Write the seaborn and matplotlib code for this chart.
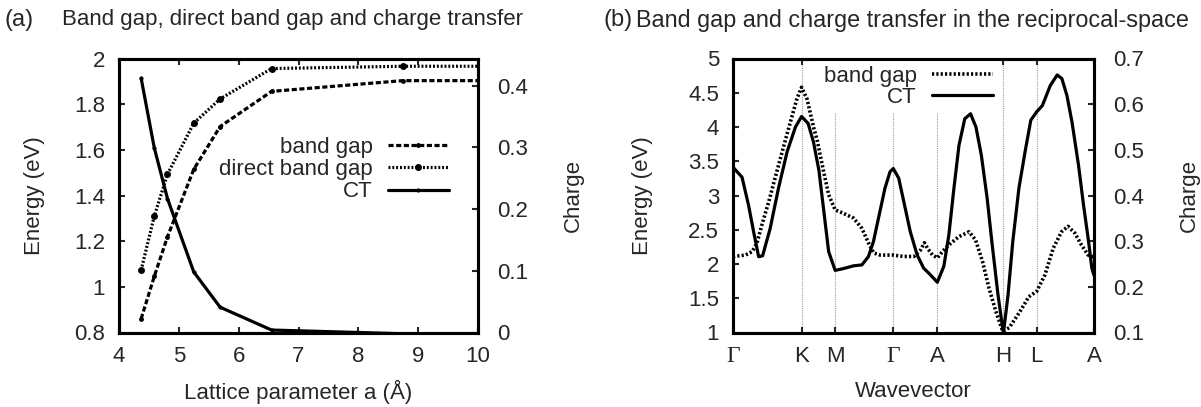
import numpy as np
import pandas as pd
import seaborn as sns
import matplotlib.pyplot as plt
from matplotlib.ticker import FormatStrFormatter, FixedLocator

# (a) band gap / direct gap / charge transfer vs lattice parameter
lattice_a = [4.37, 4.59, 4.81, 5.25, 5.69, 6.55, 8.74, 10.93]
band_gap_a = [0.86, 1.046, 1.219, 1.515, 1.702, 1.856, 1.903, 1.903]
direct_gap_a = [1.073, 1.310, 1.493, 1.717, 1.823, 1.956, 1.966, 1.966]
charge_a = [0.412, 0.299, 0.217, 0.098, 0.041, 0.004, -0.002, -0.002]

# (b) along the k-path (normalized path coordinate)
k_ticks = [0, 0.19, 0.283, 0.444, 0.566, 0.749, 0.841, 1.0]
k_labels = ["Γ", "K", "M", "Γ", "A", "H", "L", "A"]

gap_k = [0.0, 0.034, 0.053, 0.066, 0.080, 0.099, 0.126, 0.154, 0.177, 0.190,
         0.205, 0.224, 0.233, 0.251, 0.265, 0.283, 0.306, 0.334, 0.357, 0.376,
         0.390, 0.408, 0.444, 0.473, 0.501, 0.519, 0.530, 0.540, 0.553, 0.566,
         0.580, 0.598, 0.626, 0.654, 0.672, 0.691, 0.709, 0.728, 0.747, 0.765,
         0.793, 0.809, 0.819, 0.841, 0.864, 0.887, 0.910, 0.928, 0.947, 0.965,
         0.984, 1.0]
gap_energy = [2.11, 2.13, 2.18, 2.30, 2.57, 2.91, 3.44, 3.98, 4.41, 4.58,
              4.41, 3.98, 3.81, 3.35, 3.01, 2.79, 2.74, 2.67, 2.52, 2.30,
              2.16, 2.13, 2.13, 2.11, 2.11, 2.20, 2.31, 2.22, 2.13, 2.09,
              2.18, 2.28, 2.40, 2.47, 2.35, 2.04, 1.65, 1.31, 1.02, 1.07,
              1.29, 1.43, 1.52, 1.60, 1.84, 2.23, 2.47, 2.55, 2.45, 2.28,
              2.13, 2.10]

ct_k = [0.0, 0.025, 0.043, 0.057, 0.071, 0.082, 0.103, 0.126, 0.150, 0.173,
        0.190, 0.208, 0.223, 0.238, 0.265, 0.283, 0.306, 0.334, 0.357, 0.375,
        0.389, 0.407, 0.421, 0.435, 0.444, 0.459, 0.473, 0.491, 0.510, 0.528,
        0.546, 0.566, 0.584, 0.598, 0.612, 0.626, 0.642, 0.658, 0.673, 0.688,
        0.704, 0.717, 0.734, 0.749, 0.762, 0.775, 0.792, 0.810, 0.825, 0.841,
        0.857, 0.879, 0.898, 0.911, 0.925, 0.939, 0.957, 0.971, 0.985, 0.994,
        1.0]
ct_charge = [0.462, 0.440, 0.379, 0.321, 0.266, 0.268, 0.328, 0.416, 0.496, 0.550,
             0.573, 0.558, 0.517, 0.455, 0.277, 0.236, 0.240, 0.246, 0.248, 0.266,
             0.299, 0.365, 0.416, 0.452, 0.459, 0.438, 0.387, 0.321, 0.270, 0.241,
             0.227, 0.210, 0.245, 0.314, 0.416, 0.510, 0.568, 0.579, 0.550, 0.488,
             0.394, 0.299, 0.183, 0.098, 0.183, 0.299, 0.416, 0.500, 0.565, 0.583,
             0.597, 0.641, 0.664, 0.656, 0.619, 0.561, 0.467, 0.379, 0.299, 0.241,
             0.225]

sns.set_style("white")
plt.rcParams["font.family"] = ["Liberation Sans", "DejaVu Sans"]
plt.rcParams["font.size"] = 16

dashed = (0, (1.6, 0.8))
dotted = (0, (0.6, 0.6))
lw = 2.3

fig = plt.figure(figsize=(12.01, 4.07), dpi=100)
bottom = 1 - 332.5 / 407
height = 274 / 407
ax_a = fig.add_axes([119 / 1201, bottom, 359 / 1201, height])
ax_b = fig.add_axes([733 / 1201, bottom, 361 / 1201, height])


def style_axes(ax, ax2):
    for a in (ax, ax2):
        for s in a.spines.values():
            s.set_linewidth(2.2)
            s.set_color("black")
    ax.tick_params(axis="x", which="both", direction="in", bottom=True, top=True,
                   length=4, width=1.5, labelsize=16, pad=10)
    ax.tick_params(axis="y", which="both", direction="in", left=True, right=False,
                   length=4, width=1.5, labelsize=16, pad=10)
    ax2.tick_params(axis="y", which="both", direction="in", right=True, left=False,
                    length=4, width=1.5, labelsize=16, pad=14)


# ---- panel (a)
ax_a2 = ax_a.twinx()
ax_a2.set_position(ax_a.get_position())
sns.lineplot(x=lattice_a, y=band_gap_a, ax=ax_a, color="black", lw=lw,
             linestyle=dashed, marker="o", markersize=3.5, markeredgewidth=0,
             label="band gap", legend=False, sort=False, estimator=None)
sns.lineplot(x=lattice_a, y=direct_gap_a, ax=ax_a, color="black", lw=lw,
             linestyle=dotted, marker="o", markersize=5, markeredgewidth=0,
             label="direct band gap", legend=False, sort=False, estimator=None)
sns.lineplot(x=lattice_a, y=charge_a, ax=ax_a2, color="black", lw=lw,
             marker="o", markersize=3, markeredgewidth=0,
             label="CT", legend=False, sort=False, estimator=None)
ax_a.set_xlim(4, 10)
ax_a.set_ylim(0.8, 2.0)
ax_a2.set_ylim(0, 0.444)
ax_a.set_xticks(np.arange(4, 11, 1))
ax_a.set_yticks(np.arange(0.8, 2.01, 0.2))
ax_a2.set_yticks([0, 0.1, 0.2, 0.3, 0.4])
ax_a.yaxis.set_major_formatter(FormatStrFormatter("%g"))
ax_a2.yaxis.set_major_formatter(FormatStrFormatter("%g"))
style_axes(ax_a, ax_a2)
ax_a.set_xlabel("Lattice parameter a (Å)", fontsize=16, va="center")
ax_a.xaxis.set_label_coords(0.5, -0.217)
ax_a.set_ylabel("Energy (eV)", fontsize=16, va="center")
ax_a.yaxis.set_label_coords(-0.235, 0.5)
ax_a2.set_ylabel("Charge", fontsize=16, va="center")
ax_a2.yaxis.set_label_coords(1.265, 0.5)

h1, l1 = ax_a.get_legend_handles_labels()
h2, l2 = ax_a2.get_legend_handles_labels()
ax_a2.legend(h1 + h2, l1 + l2, loc="upper right", bbox_to_anchor=(0.919, 0.713),
             frameon=False, markerfirst=False, handlelength=2.75,
             handletextpad=0.68, labelspacing=0.05, borderpad=0,
             borderaxespad=0, fontsize=16, numpoints=1)

# ---- panel (b)
ax_b2 = ax_b.twinx()
ax_b2.set_position(ax_b.get_position())
for k in k_ticks[1:-1]:
    ax_b.axvline(k, color="#9a9a9a", lw=0.8, linestyle=(0, (1, 1)), zorder=0.5)
sns.lineplot(x=gap_k, y=gap_energy, ax=ax_b, color="black", lw=2.6,
             linestyle=dotted, label="band gap", legend=False, sort=False,
             estimator=None)
sns.lineplot(x=ct_k, y=ct_charge, ax=ax_b2, color="black", lw=lw,
             label="CT", legend=False, sort=False, estimator=None, zorder=3)
ax_b.set_xlim(0, 1)
ax_b.set_ylim(1, 5)
ax_b2.set_ylim(0.1, 0.7)
ax_b.xaxis.set_major_locator(FixedLocator(k_ticks))
ax_b.set_xticklabels(k_labels)
ax_b.set_yticks(np.arange(1, 5.01, 0.5))
ax_b2.set_yticks(np.arange(0.1, 0.71, 0.1))
ax_b.yaxis.set_major_formatter(FormatStrFormatter("%g"))
ax_b2.yaxis.set_major_formatter(FormatStrFormatter("%g"))
style_axes(ax_b, ax_b2)
for t in ax_b.get_xticklabels():
    if t.get_text() == "Γ":
        t.set_fontfamily("Liberation Serif")
        t.set_fontsize(17)
ax_b.set_xlabel("Wavevector", fontsize=16, va="center")
ax_b.xaxis.set_label_coords(0.5, -0.217)
ax_b.set_ylabel("Energy (eV)", fontsize=16, va="center")
ax_b.yaxis.set_label_coords(-0.25, 0.5)
ax_b2.set_ylabel("Charge", fontsize=16, va="center")
ax_b2.yaxis.set_label_coords(1.265, 0.5)

h1, l1 = ax_b.get_legend_handles_labels()
h2, l2 = ax_b2.get_legend_handles_labels()
leg = ax_b2.legend(h1 + h2, l1 + l2, loc="upper right",
                   bbox_to_anchor=(0.735, 0.994), frameon=True,
                   facecolor="white", edgecolor="none", framealpha=1,
                   fancybox=False, markerfirst=False, handlelength=2.75,
                   handletextpad=0.68, labelspacing=0.0, borderpad=0.25,
                   borderaxespad=0, fontsize=16)
leg.set_zorder(2)

# panel titles
fig.text(5 / 1201, 1 - 20 / 407, "(a)", fontsize=17, va="center", ha="left")
fig.text(62 / 1201, 1 - 20 / 407, "Band gap, direct band gap and charge transfer",
         fontsize=16, va="center", ha="left")
fig.text(603 / 1201, 1 - 20 / 407, "(b)", fontsize=17, va="center", ha="left")
fig.text(636 / 1201, 1 - 20 / 407, "Band gap and charge transfer in the reciprocal-space",
         fontsize=16.8, va="center", ha="left")

fig.savefig("out.png", dpi=100)
